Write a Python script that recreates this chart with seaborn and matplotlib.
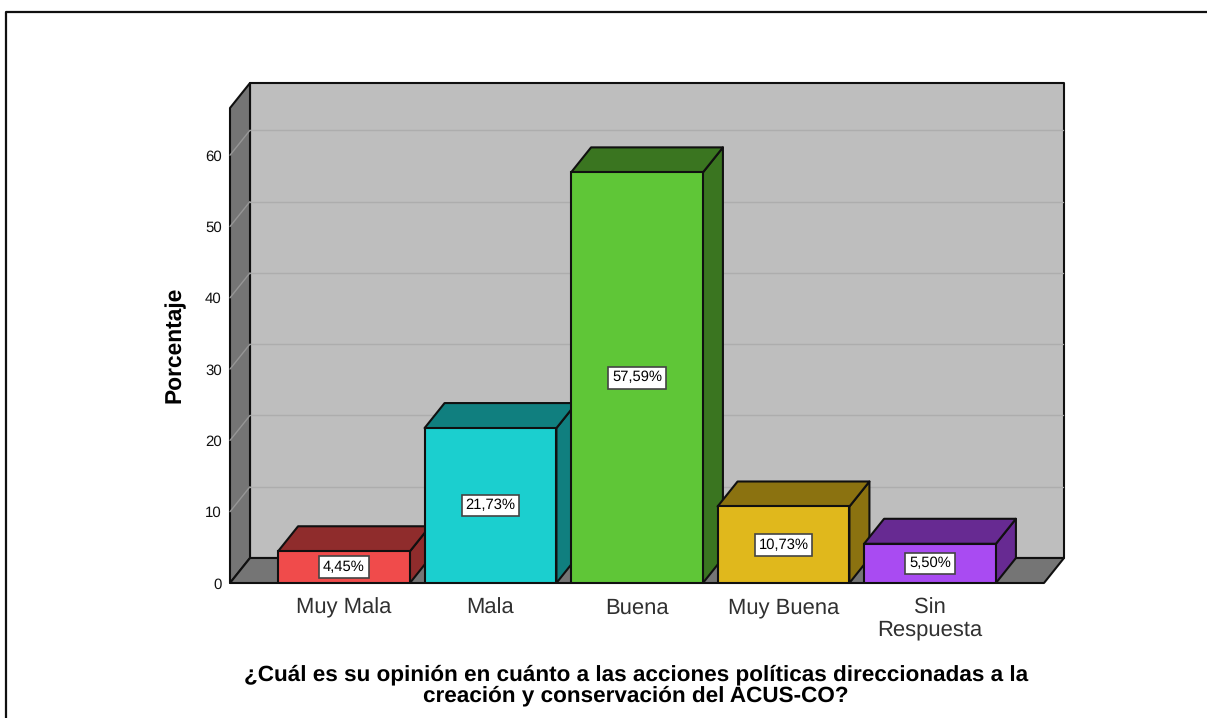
import matplotlib
matplotlib.use("Agg")
import matplotlib.pyplot as plt
from matplotlib.lines import Line2D
from matplotlib.patches import Polygon
import pandas as pd
import seaborn as sns

categories = ["Muy Mala", "Mala", "Buena", "Muy Buena", "Sin\nRespuesta"]
percentages = [4.45, 21.73, 57.59, 10.73, 5.50]
value_labels = ["4,45%", "21,73%", "57,59%", "10,73%", "5,50%"]
y_ticks = [0, 10, 20, 30, 40, 50, 60]
front_colors = ["#F04B4B", "#1BCFCF", "#5FC637", "#E0B81C", "#A94BF2"]
shade_colors = ["#8F2C2C", "#107F7F", "#3A7520", "#8B7210", "#672A92"]
x_title = ("¿Cuál es su opinión en cuánto a las acciones políticas direccionadas a la\n"
           "creación y conservación del ACUS-CO?")

WIDTH, HEIGHT = 1207, 718
LEFT, RIGHT, BOTTOM, TOP = 230, 1044, 583, 108  # front plane of the box, in pixels
STEP_X = 146.5  # pixels per category
STEP_Y = 7.13  # pixels per percent
FIRST_X = 344  # pixel centre of first bar
DEPTH_X = 20 / STEP_X
DEPTH_Y = 25 / STEP_Y

sns.set_theme(style="white")
plt.rcParams["font.family"] = ["Liberation Sans", "DejaVu Sans"]
plt.rcParams["text.hinting"] = "no_hinting"

fig = plt.figure(figsize=(WIDTH / 100, HEIGHT / 100), dpi=100)
ax = fig.add_axes([LEFT / WIDTH, 1 - BOTTOM / HEIGHT, (RIGHT - LEFT) / WIDTH, (BOTTOM - TOP) / HEIGHT])

df = pd.DataFrame({"categoria": categories, "porcentaje": percentages})
sns.barplot(
    data=df,
    x="categoria",
    y="porcentaje",
    hue="categoria",
    palette=front_colors,
    saturation=1,
    width=0.9,
    edgecolor="#101010",
    linewidth=1.5,
    legend=False,
    ax=ax,
)

x0 = (LEFT - FIRST_X) / STEP_X
x1 = (RIGHT - FIRST_X) / STEP_X
y1 = (BOTTOM - TOP) / STEP_Y
ax.set_xlim(x0, x1)
ax.set_ylim(0, y1)
ax.patch.set_visible(False)
sns.despine(ax=ax, left=True, bottom=True)


def face(points, color, zorder, edge="#101010"):
    ax.add_patch(Polygon(points, closed=True, facecolor=color, edgecolor=edge,
                         linewidth=1.5, zorder=zorder, clip_on=False, joinstyle="round"))


# back wall, left wall and floor of the box
face([(x0 + DEPTH_X, DEPTH_Y), (x1 + DEPTH_X, DEPTH_Y), (x1 + DEPTH_X, y1 + DEPTH_Y), (x0 + DEPTH_X, y1 + DEPTH_Y)],
     "#BEBEBE", 0.1)
face([(x0, 0), (x0 + DEPTH_X, DEPTH_Y), (x0 + DEPTH_X, y1 + DEPTH_Y), (x0, y1)], "#757575", 0.2)
face([(x0, 0), (x1, 0), (x1 + DEPTH_X, DEPTH_Y), (x0 + DEPTH_X, DEPTH_Y)], "#757575", 0.2)

# gridlines run along the back wall and down the left wall
for t in y_ticks[1:]:
    ax.plot([x0 + DEPTH_X, x1 + DEPTH_X - 0.005], [t + DEPTH_Y, t + DEPTH_Y], color="#ADADAD", lw=1.0, zorder=0.5, clip_on=False)
    ax.plot([x0, x0 + DEPTH_X], [t, t + DEPTH_Y], color="#969696", lw=1.0, zorder=0.5, clip_on=False)

# extrude each seaborn bar, left to right so the next front covers the previous side
for i, bar in enumerate(ax.patches[:len(categories)]):
    left, right = bar.get_x(), bar.get_x() + bar.get_width()
    h = bar.get_height()
    z = 1 + i
    bar.set_zorder(z + 0.2)
    face([(right, 0), (right + DEPTH_X, DEPTH_Y), (right + DEPTH_X, h + DEPTH_Y), (right, h)], shade_colors[i], z)
    face([(left, h), (right, h), (right + DEPTH_X, h + DEPTH_Y), (left + DEPTH_X, h + DEPTH_Y)], shade_colors[i], z)

for container, label in zip(ax.containers, value_labels):
    texts = ax.bar_label(container, labels=[label], label_type="center", fontsize=10.6, color="black",
                         bbox=dict(boxstyle="square,pad=0.26", facecolor="white", edgecolor="#444444", linewidth=1.2))
    for t in texts:
        t.set_zorder(10)

ax.set_yticks(y_ticks)
ax.tick_params(axis="y", length=0, pad=6, labelsize=10.8, labelcolor="#101010")
ax.tick_params(axis="x", length=0, pad=10.5, labelsize=15.8, labelcolor="#303030")
ax.set_xticks(range(len(categories)))
ax.set_xticklabels(categories, linespacing=1.1)

ax.set_ylabel("Porcentaje", fontsize=16.4, fontweight="bold", color="black")
ax.yaxis.set_label_coords((185 - LEFT) / (RIGHT - LEFT), (BOTTOM - 344.5) / (BOTTOM - TOP))
ax.set_xlabel(x_title, fontsize=16.2, fontweight="bold", color="black", linespacing=1.02, va="center")
ax.xaxis.set_label_coords((636 - LEFT) / (RIGHT - LEFT), (BOTTOM - 685) / (BOTTOM - TOP))

# outer chart frame, open on the right and the bottom
fig.add_artist(Line2D([6 / WIDTH, 6 / WIDTH, 1], [0, 1 - 11.5 / HEIGHT, 1 - 11.5 / HEIGHT], color="#101010", lw=1.6))

fig.savefig("out.png", dpi=100)
